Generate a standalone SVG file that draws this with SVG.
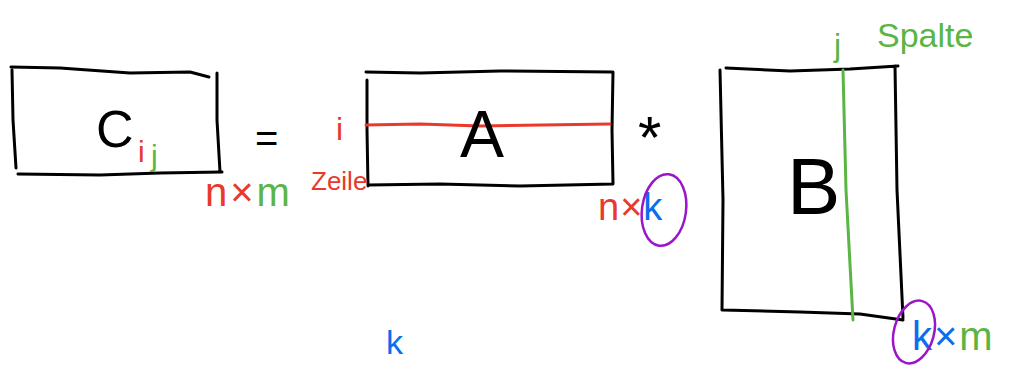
<svg xmlns="http://www.w3.org/2000/svg" width="1010" height="365" viewBox="0 0 1010 365">
<style>
.box{fill:none;stroke:#000;stroke-width:3;stroke-linecap:round;stroke-linejoin:round}
.t{font-family:"Liberation Sans",Arial,sans-serif}
.big{fill:#000}
.r{fill:#e8392c}
.g{fill:#5ab544}
.b{fill:#0a6df0}
.ring{fill:none;stroke:#9b16c8;stroke-width:2.5}
</style>
<rect width="1010" height="365" fill="#fff"/>
<g id="matrixC">
<path class="box" d="M11,67 L60,68 L130,73 L190,72 L209,77 M217,73 L217,120 L220,172 M18,174 L100,175 L160,173 L222,172 M12,70 L13,120 L16,168"/>
<text class="t big" x="96" y="147" font-size="52">C</text>
<text class="t r" x="138" y="162" font-size="30">i</text>
<text class="t g" x="151" y="166" font-size="30">j</text>
</g>
<g id="dimC">
<text class="t" x="205" y="206" font-size="40" letter-spacing="3"><tspan class="r">n×</tspan><tspan class="g">m</tspan></text>
</g>
<g id="equals">
<text class="t big" x="255" y="152" font-size="40">=</text>
</g>
<g id="matrixA">
<path class="box" d="M366,72 L420,73 L500,71 L612,72 M613,72 L612,130 L613,184 M367,80 L367,130 L368,186 M368,185 L440,184 L520,186 L613,184"/>
<path d="M366,125 L420,124 L480,126 L610,124" fill="none" stroke="#e8392c" stroke-width="3" stroke-linecap="round"/>
<text class="t big" x="460" y="157" font-size="66">A</text>
</g>
<g id="rowLabel">
<text class="t r" x="336" y="140" font-size="32">i</text>
<text class="t r" x="311" y="190" font-size="26">Zeile</text>
</g>
<g id="times">
<text class="t big" x="638" y="158" font-size="60">*</text>
</g>
<g id="dimA">
<text class="t" x="598" y="220" font-size="38" letter-spacing="1"><tspan class="r">n×</tspan><tspan class="b">k</tspan></text>
<ellipse class="ring" cx="664" cy="210" rx="22" ry="36" transform="rotate(8 664 210)"/>
</g>
<g id="matrixB">
<path class="box" d="M726,68 L790,71 L850,69 L898,66 M895,66 L897,190 L903,318 M720,70 L723,200 L722,310 M723,310 L800,312 L860,314 L903,320"/>
<path d="M843,70 L846,190 L853,320" fill="none" stroke="#5ab544" stroke-width="3" stroke-linecap="round"/>
<text class="t big" x="787" y="214" font-size="80">B</text>
</g>
<g id="colLabel">
<text class="t g" x="834" y="56" font-size="32">j</text>
<text class="t g" x="877" y="47" font-size="34">Spalte</text>
</g>
<g id="dimB">
<text class="t" x="912" y="350" font-size="40" letter-spacing="2"><tspan class="b">k×</tspan><tspan class="g">m</tspan></text>
<ellipse class="ring" cx="914" cy="332" rx="20" ry="32" transform="rotate(15 914 332)"/>
</g>
<g id="stray">
<text class="t b" x="386" y="354" font-size="34">k</text>
</g>
</svg>
